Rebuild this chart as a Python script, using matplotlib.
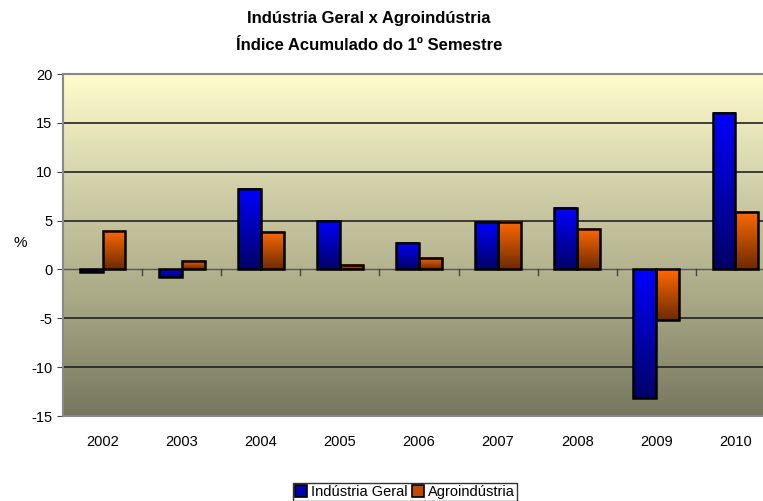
import numpy as np
import matplotlib
matplotlib.use("Agg")
import matplotlib.pyplot as plt
from matplotlib.colors import LinearSegmentedColormap
from matplotlib.patches import Patch

anos = ["2002", "2003", "2004", "2005", "2006", "2007", "2008", "2009", "2010"]
industria_geral = [-0.3, -0.8, 8.2, 5.0, 2.7, 4.9, 6.3, -13.2, 16.0]
agroindustria = [3.9, 0.9, 3.8, 0.5, 1.2, 4.9, 4.1, -5.2, 5.9]
series_labels = ["Indústria Geral", "Agroindústria"]

plt.rcParams["font.family"] = ["Liberation Sans Narrow", "Liberation Sans", "DejaVu Sans"]
plt.rcParams["axes.unicode_minus"] = False

blue_cmap = LinearSegmentedColormap.from_list("azul", ["#0000ff", "#000066"])
orange_cmap = LinearSegmentedColormap.from_list("laranja", ["#ff6a00", "#6e2a00"])
bg_cmap = LinearSegmentedColormap.from_list("fundo", ["#fffccc", "#d0cfa8", "#a9a885", "#76765e"])


def gradient_bars(ax, bars, cmap):
    grad = np.linspace(0, 1, 256).reshape(-1, 1)
    for b in bars:
        x0, y0 = b.get_x(), b.get_y()
        w, h = b.get_width(), b.get_height()
        top, bottom = max(y0, y0 + h), min(y0, y0 + h)
        ax.imshow(grad, cmap=cmap, aspect="auto", origin="upper",
                  extent=(x0, x0 + w, bottom, top), zorder=2, interpolation="bilinear")


fig = plt.figure(figsize=(7.63, 5.01), dpi=100)
ax = fig.add_axes([63 / 763, 85 / 501, 712 / 763, 342 / 501])

# fundo em degradê
bg = np.linspace(0, 1, 256).reshape(-1, 1)
ax.imshow(bg, cmap=bg_cmap, aspect="auto", origin="upper",
          extent=(0, 1, 0, 1), transform=ax.transAxes, zorder=0)

x = np.arange(len(anos))
w = 0.29
b1 = ax.bar(x - w / 2, industria_geral, w, facecolor="none", edgecolor="black",
            linewidth=1.8, zorder=3, label=series_labels[0])
b2 = ax.bar(x + w / 2, agroindustria, w, facecolor="none", edgecolor="black",
            linewidth=1.8, zorder=3, label=series_labels[1])
gradient_bars(ax, b1, blue_cmap)
gradient_bars(ax, b2, orange_cmap)

ax.set_xlim(-0.5, len(anos) - 0.5)
ax.set_ylim(-15, 20)
ax.set_yticks(range(-15, 21, 5))
for v in range(-10, 20, 5):
    if v != 0:
        ax.axhline(v, color="#222222", linewidth=1.2, zorder=1)
ax.axhline(0, color="#555555", linewidth=1.0, zorder=1)

# marcas entre categorias sobre a linha do zero
for xb in np.arange(0.5, len(anos) - 0.5, 1):
    ax.plot([xb, xb], [0, -0.6], color="#444444", linewidth=1.0, zorder=1)

ax.set_xticks(x)
ax.set_xticklabels(anos, fontsize=10.5)
ax.tick_params(axis="x", length=0, pad=14)
ax.tick_params(axis="y", labelsize=10.5, length=4, color="#444444")
for s in ["left", "top", "bottom", "right"]:
    ax.spines[s].set_color("#888888")
    ax.spines[s].set_linewidth(1.5)

fig.text(20 / 763, 1 - 243 / 501, "%", fontsize=11, ha="center", va="center")
fig.text(369 / 763, 1 - 18 / 501, "Indústria Geral x Agroindústria", fontsize=12,
         fontweight="bold", ha="center", va="center")
fig.text(369 / 763, 1 - 46 / 501, "Índice Acumulado do 1º Semestre", fontsize=12,
         fontweight="bold", ha="center", va="center")

handles = [Patch(facecolor="#0000aa", edgecolor="black", linewidth=1.2),
           Patch(facecolor="#c04a00", edgecolor="black", linewidth=1.2)]
leg = fig.legend(handles, series_labels, loc="center", bbox_to_anchor=(405 / 763, 1 - 492 / 501),
                 ncol=2, fontsize=10.5, frameon=True, fancybox=False, handlelength=0.8,
                 handleheight=0.8, handletextpad=0.3, columnspacing=0.3, borderpad=0.15,
                 borderaxespad=0)
leg.get_frame().set_edgecolor("black")
leg.get_frame().set_linewidth(1.0)

fig.savefig("out.png", dpi=100)
